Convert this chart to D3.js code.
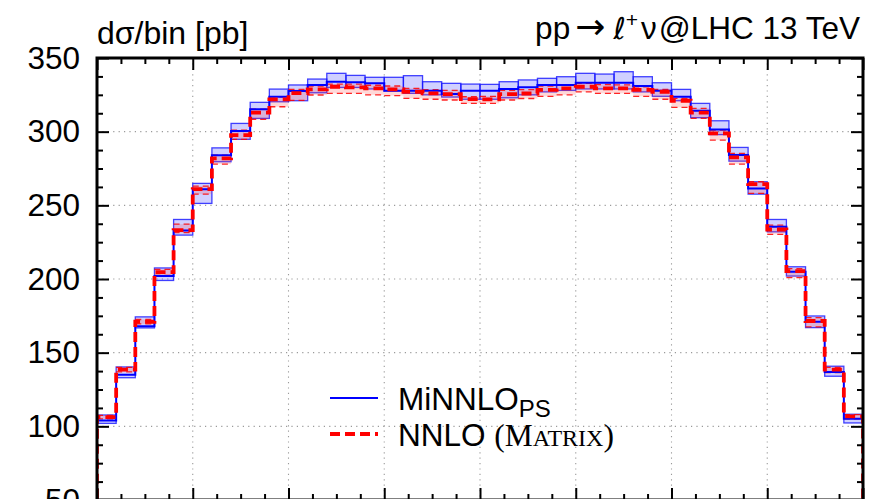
<!DOCTYPE html>
<html>
<head>
<meta charset="utf-8">
<script src="https://cdn.jsdelivr.net/npm/d3@7/dist/d3.min.js"></script>
<style>
  body { margin: 0; background: #fff; }
  svg { display: block; }
  text { font-family: "Liberation Sans", Arial, Helvetica, sans-serif; fill: #000; }
</style>
</head>
<body>
<svg id="chart" width="892" height="499"></svg>
<script>
// W+ rapidity bins (lower edges), width 0.2
const binLow = [-4.0, -3.8, -3.6, -3.4, -3.2, -3.0, -2.8, -2.6, -2.4, -2.2,
                -2.0, -1.8, -1.6, -1.4, -1.2, -1.0, -0.8, -0.6, -0.4, -0.2,
                 0.0,  0.2,  0.4,  0.6,  0.8,  1.0,  1.2,  1.4,  1.6,  1.8,
                 2.0,  2.2,  2.4,  2.6,  2.8,  3.0,  3.2,  3.4,  3.6,  3.8];
const binWidth = 0.2;

// MiNNLO_PS: central value and scale-uncertainty band [pb]
const minnloCentral = [104.0, 135.0, 168.0, 202.0, 233.0, 261.0, 284.0, 300.4, 315.2, 323.7,
                       327.6, 331.7, 333.9, 333.5, 332.8, 327.8, 327.8, 327.8, 325.5, 327.8,
                       327.8, 328.9, 330.1, 331.7, 331.7, 333.2, 333.2, 333.2, 331.0, 327.8,
                       323.7, 314.2, 301.5, 284.1, 261.5, 235.4, 204.9, 170.9, 136.9, 105.2];
const minnloLow     = [102.0, 133.0, 166.8, 199.0, 229.8, 251.3, 279.6, 294.8, 309.0, 320.3,
                       321.0, 326.4, 330.0, 330.0, 329.0, 327.8, 326.0, 325.0, 323.5, 322.0,
                       322.0, 323.0, 325.0, 327.0, 328.0, 329.0, 329.0, 329.0, 327.0, 324.0,
                       321.0, 309.5, 298.0, 280.0, 257.6, 232.0, 202.0, 167.0, 134.0, 102.3];
const minnloHigh    = [107.7, 140.3, 174.3, 207.5, 240.4, 264.9, 289.0, 305.6, 319.9, 328.9,
                       331.7, 335.7, 339.6, 338.2, 336.9, 336.9, 338.0, 333.9, 332.8, 332.3,
                       332.1, 333.9, 335.1, 336.2, 337.3, 339.6, 339.1, 340.7, 337.3, 333.2,
                       328.7, 319.2, 307.4, 289.3, 266.0, 240.4, 208.3, 174.9, 140.8, 108.2];

// NNLO (MATRIX): central value and scale-uncertainty band [pb]
const nnloCentral   = [106.3, 138.5, 171.0, 204.6, 233.2, 261.0, 281.9, 297.7, 312.9, 321.9,
                       326.2, 328.7, 330.5, 330.1, 329.4, 328.7, 327.1, 326.0, 325.5, 322.1,
                       321.9, 325.5, 325.9, 328.3, 329.4, 330.5, 329.4, 329.4, 328.3, 327.1,
                       321.0, 312.9, 298.8, 282.5, 264.4, 233.6, 205.3, 171.5, 138.5, 106.8];
const nnloLow       = [105.0, 137.0, 169.5, 202.5, 231.5, 257.6, 278.0, 294.8, 308.4, 316.9,
                       321.3, 324.9, 326.0, 326.0, 325.0, 324.5, 322.6, 322.0, 321.5, 319.2,
                       319.2, 321.5, 322.5, 324.0, 325.0, 327.0, 326.0, 326.0, 324.0, 322.0,
                       316.5, 309.0, 294.3, 278.0, 258.1, 230.3, 201.0, 167.5, 136.5, 105.0];
const nnloHigh      = [107.5, 140.0, 172.5, 206.5, 237.2, 263.0, 284.1, 301.0, 315.2, 323.7,
                       328.7, 331.0, 332.3, 332.3, 331.5, 331.0, 329.4, 328.5, 328.0, 323.7,
                       324.0, 328.0, 328.5, 331.0, 331.7, 332.8, 332.0, 331.7, 330.5, 328.7,
                       322.6, 315.8, 301.1, 285.3, 266.0, 236.6, 207.1, 173.8, 140.0, 108.0];

// Axis ticks
const xMajorTicks = [-4, -3, -2, -1, 0, 1, 2, 3, 4];
const xMinorTicks = [-3.75, -3.5, -3.25, -2.75, -2.5, -2.25, -1.75, -1.5, -1.25, -0.75, -0.5, -0.25,
                     0.25, 0.5, 0.75, 1.25, 1.5, 1.75, 2.25, 2.5, 2.75, 3.25, 3.5, 3.75];
const yMajorTicks = [50, 100, 150, 200, 250, 300, 350];
const yMinorTicks = [62.5, 75, 87.5, 112.5, 125, 137.5, 162.5, 175, 187.5, 212.5, 225, 237.5,
                     262.5, 275, 287.5, 312.5, 325, 337.5];

const svg = d3.select("#chart");
const L = 97, R = 863, T = 58, B = 500;
const x = d3.scaleLinear().domain([-4, 4]).range([L, R]);
const y = d3.scaleLinear().domain([50, 350]).range([B, T]);

svg.append("defs").append("clipPath").attr("id", "plotClip")
  .append("rect").attr("x", L).attr("y", T).attr("width", R - L).attr("height", B - T);

// Dotted grid at major ticks
const grid = svg.append("g");
grid.selectAll("line.vg").data(xMajorTicks.slice(1, -1)).join("line")
  .attr("x1", d => x(d)).attr("x2", d => x(d)).attr("y1", T).attr("y2", B)
  .attr("stroke", "#9a9a9a").attr("stroke-width", 1.1).attr("stroke-dasharray", "1.2,4.2");
grid.selectAll("line.hg").data(yMajorTicks.slice(0, -1)).join("line")
  .attr("x1", L).attr("x2", R).attr("y1", d => y(d)).attr("y2", d => y(d))
  .attr("stroke", "#9a9a9a").attr("stroke-width", 1.1).attr("stroke-dasharray", "1.2,4.2");

const plot = svg.append("g").attr("clip-path", "url(#plotClip)");
const bins = binLow.map((lo, i) => ({ lo, hi: lo + binWidth, i }));

// Uncertainty bands: one box per bin
plot.append("g").selectAll("rect").data(bins).join("rect")
  .attr("x", d => x(d.lo)).attr("width", d => x(d.hi) - x(d.lo))
  .attr("y", d => y(minnloHigh[d.i])).attr("height", d => y(minnloLow[d.i]) - y(minnloHigh[d.i]))
  .attr("fill", "rgba(60,60,255,0.24)").attr("stroke", "rgba(20,20,255,0.8)").attr("stroke-width", 1.3);

plot.append("g").selectAll("rect").data(bins).join("rect")
  .attr("x", d => x(d.lo)).attr("width", d => x(d.hi) - x(d.lo))
  .attr("y", d => y(nnloHigh[d.i])).attr("height", d => y(nnloLow[d.i]) - y(nnloHigh[d.i]))
  .attr("fill", "rgba(255,60,60,0.2)").attr("stroke", "none");

// NNLO band edges: thin dashed
const edgeLines = plot.append("g");
[nnloHigh, nnloLow].forEach(arr => {
  edgeLines.append("g").selectAll("line").data(bins).join("line")
    .attr("x1", d => x(d.lo)).attr("x2", d => x(d.hi))
    .attr("y1", d => y(arr[d.i])).attr("y2", d => y(arr[d.i]))
    .attr("stroke", "rgba(255,0,0,0.85)").attr("stroke-width", 1.3).attr("stroke-dasharray", "6,4");
});

// Central values as step lines dropping to the axis at both ends
function stepPoints(vals) {
  const pts = [[binLow[0], 0]];
  vals.forEach((v, i) => pts.push([binLow[i], v]));
  const xEnd = binLow[binLow.length - 1] + binWidth;
  pts.push([xEnd, vals[vals.length - 1]]);
  pts.push([xEnd, 0]);
  return pts;
}
const step = d3.line().x(d => x(d[0])).y(d => y(d[1])).curve(d3.curveStepAfter);

plot.append("path").attr("d", step(stepPoints(minnloCentral)))
  .attr("fill", "none").attr("stroke", "#0000ff").attr("stroke-width", 2);
plot.append("path").attr("d", step(stepPoints(nnloCentral)))
  .attr("fill", "none").attr("stroke", "#ff0000").attr("stroke-width", 3.8)
  .attr("stroke-dasharray", "10,5");

// Axes with inward ticks
function styleAxis(g) {
  g.select(".domain").remove();
  g.selectAll(".tick line").attr("stroke", "#000").attr("stroke-width", 2);
}
svg.append("g").attr("transform", `translate(${L},0)`)
  .call(d3.axisLeft(y).tickValues(yMajorTicks).tickSize(-12).tickPadding(17).tickFormat(d3.format("d")))
  .call(styleAxis)
  .call(g => g.selectAll("text").attr("font-size", 31.5).attr("font-family", "Liberation Sans, Arial, sans-serif"));
svg.append("g").attr("transform", `translate(${L},0)`)
  .call(d3.axisLeft(y).tickValues(yMinorTicks).tickSize(-6).tickFormat(""))
  .call(styleAxis);
svg.append("g").attr("transform", `translate(${R},0)`)
  .call(d3.axisRight(y).tickValues(yMajorTicks).tickSize(-12).tickFormat(""))
  .call(styleAxis);
svg.append("g").attr("transform", `translate(${R},0)`)
  .call(d3.axisRight(y).tickValues(yMinorTicks).tickSize(-6).tickFormat(""))
  .call(styleAxis);
svg.append("g").attr("transform", `translate(0,${T})`)
  .call(d3.axisTop(x).tickValues(xMajorTicks).tickSize(-12).tickFormat(""))
  .call(styleAxis);
svg.append("g").attr("transform", `translate(0,${T})`)
  .call(d3.axisTop(x).tickValues(xMinorTicks).tickSize(-6).tickFormat(""))
  .call(styleAxis);
svg.append("g").attr("transform", `translate(0,${B})`)
  .call(d3.axisBottom(x).tickValues(xMajorTicks).tickSize(-12).tickFormat(""))
  .call(styleAxis);
svg.append("g").attr("transform", `translate(0,${B})`)
  .call(d3.axisBottom(x).tickValues(xMinorTicks).tickSize(-6).tickFormat(""))
  .call(styleAxis);

// Frame
svg.append("rect").attr("x", L).attr("y", T).attr("width", R - L).attr("height", B - T)
  .attr("fill", "none").attr("stroke", "#000").attr("stroke-width", 3);

// Titles
svg.append("text").attr("x", L).attr("y", 44).attr("font-size", 32).text("dσ/bin [pb]");
const title = svg.append("text").attr("x", 860).attr("y", 39).attr("font-size", 31.5)
  .attr("text-anchor", "end");
title.append("tspan").text("pp");
title.append("tspan").attr("font-family", "DejaVu Sans, sans-serif").attr("font-size", 36)
  .attr("dx", 5).text("→");
title.append("tspan").attr("font-family", "DejaVu Sans, sans-serif").attr("font-size", 30)
  .attr("dx", 8).text("ℓ");
title.append("tspan").attr("font-size", 21).attr("dy", -12).text("+");
title.append("tspan").attr("dy", 12).attr("dx", 3).text("ν");
title.append("tspan").attr("dx", 2).text("@LHC 13 TeV");

// Legend
const legend = svg.append("g");
legend.append("line").attr("x1", 330).attr("x2", 378).attr("y1", 398).attr("y2", 398)
  .attr("stroke", "#0000ff").attr("stroke-width", 2);
legend.append("line").attr("x1", 330).attr("x2", 378).attr("y1", 434).attr("y2", 434)
  .attr("stroke", "#ff0000").attr("stroke-width", 3.8).attr("stroke-dasharray", "10,5");
const l1 = legend.append("text").attr("x", 398).attr("y", 410).attr("font-size", 31.5);
l1.append("tspan").text("MiNNLO");
l1.append("tspan").attr("font-size", 24).attr("dy", 7).text("PS");
const l2 = legend.append("text").attr("x", 398).attr("y", 446).attr("font-size", 31.5);
l2.append("tspan").text("NNLO ");
l2.append("tspan").attr("font-family", "Liberation Serif, Times New Roman, serif").text("(M");
l2.append("tspan").attr("font-family", "Liberation Serif, Times New Roman, serif").attr("font-size", 24).text("ATRIX");
l2.append("tspan").attr("font-family", "Liberation Serif, Times New Roman, serif").text(")");
</script>
</body>
</html>
